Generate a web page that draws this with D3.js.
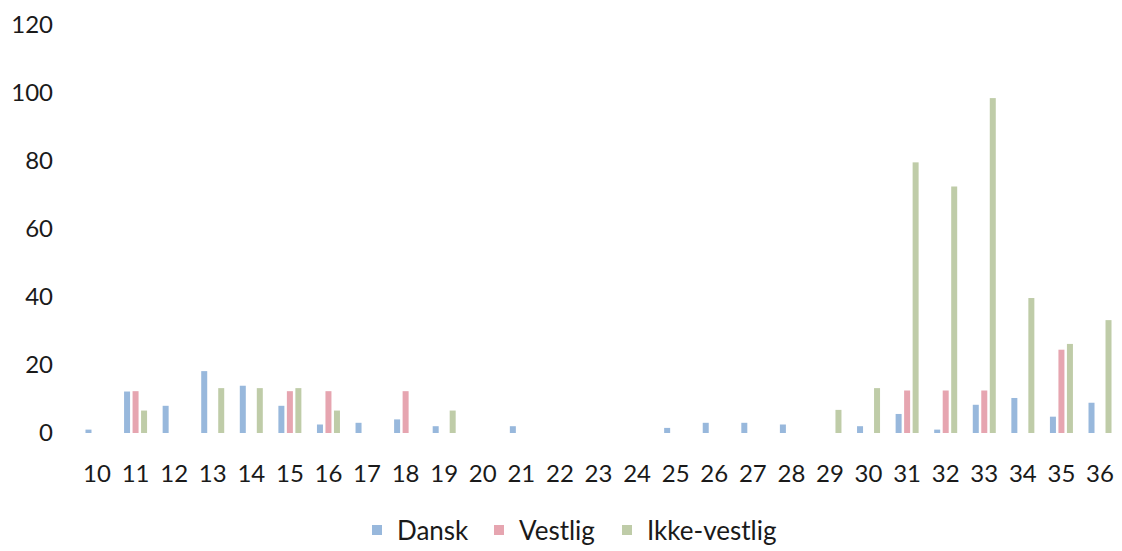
<!DOCTYPE html>
<html>
<head>
<meta charset="utf-8">
<script src="https://cdn.jsdelivr.net/npm/d3@7/dist/d3.min.js"></script>
<style>
  html, body { margin: 0; padding: 0; background: #ffffff; }
  svg { display: block; }
  text { font-family: Lato, "Open Sans", sans-serif; fill: #1a1a1a; }
</style>
</head>
<body>
<svg id="chart" width="1122" height="551"></svg>
<script>
// Age groups on the x axis
const categories = ["10","11","12","13","14","15","16","17","18","19","20","21","22","23",
                    "24","25","26","27","28","29","30","31","32","33","34","35","36"];
const seriesNames = ["Dansk", "Vestlig", "Ikke-vestlig"];
const seriesColors = ["#98b8dc", "#e6a5b0", "#bfcca8"];

// Values per age, one array per series
const dansk = [1, 12.2, 8, 18.2, 13.9, 8, 2.5, 3, 4, 2, 0, 2, 0, 0,
               0, 1.5, 3, 3, 2.5, 0, 2, 5.6, 1, 8.3, 10.3, 4.8, 8.9];
const vestlig = [0, 12.3, 0, 0, 0, 12.3, 12.3, 0, 12.3, 0, 0, 0, 0, 0,
                 0, 0, 0, 0, 0, 0, 0, 12.5, 12.5, 12.5, 0, 24.5, 0];
const ikkeVestlig = [0, 6.6, 0, 13.2, 13.2, 13.2, 6.6, 0, 0, 6.6, 0, 0, 0, 0,
                     0, 0, 0, 0, 0, 6.8, 13.2, 79.6, 72.5, 98.5, 39.7, 26.2, 33.2];
const yTicks = [0, 20, 40, 60, 80, 100, 120];

const seriesValues = [dansk, vestlig, ikkeVestlig];

const svg = d3.select("#chart");

const x = d3.scaleBand().domain(categories).range([77.7, 1119.3]).padding(0);
const xInner = d3.scaleBand().domain(seriesNames).range([-11.5, 11.5])
  .paddingInner(0.294).paddingOuter(0);
const y = d3.scaleLinear().domain([0, 120]).range([433, 25]);
const color = d3.scaleOrdinal().domain(seriesNames).range(seriesColors);

// Y axis labels only (no line, no ticks)
const yAxis = d3.axisLeft(y).tickValues(yTicks).tickSize(0).tickPadding(0);
const yG = svg.append("g").attr("transform", "translate(53,0)").call(yAxis);
yG.select(".domain").remove();
yG.selectAll("text").style("font-size", "24px").style("font-family", "Lato, sans-serif")
  .attr("fill", "#1a1a1a");

// X axis labels only
const xAxis = d3.axisBottom(x).tickSize(0).tickPadding(0);
const xG = svg.append("g").attr("transform", "translate(0,465)").call(xAxis);
xG.select(".domain").remove();
xG.selectAll("text").style("font-size", "24px").style("font-family", "Lato, sans-serif")
  .attr("fill", "#1a1a1a").attr("dy", "0.71em");

// Clustered bars
const rows = categories.map((c, i) => ({
  cat: c,
  vals: seriesNames.map((s, k) => ({ series: s, value: seriesValues[k][i] }))
}));

const groups = svg.append("g").selectAll("g.group")
  .data(rows).join("g")
  .attr("class", "group")
  .attr("transform", d => `translate(${x(d.cat) + x.bandwidth() / 2},0)`);

groups.selectAll("rect")
  .data(d => d.vals.filter(v => v.value > 0))
  .join("rect")
  .attr("x", d => xInner(d.series))
  .attr("width", xInner.bandwidth())
  .attr("y", d => y(d.value))
  .attr("height", d => y(0) - y(d.value))
  .attr("fill", d => color(d.series));

// Legend
const legendItems = [
  { name: "Dansk", sx: 372 },
  { name: "Vestlig", sx: 494 },
  { name: "Ikke-vestlig", sx: 622 }
];
const legend = svg.append("g");
legend.selectAll("rect").data(legendItems).join("rect")
  .attr("x", d => d.sx).attr("y", 525).attr("width", 10).attr("height", 10)
  .attr("fill", d => color(d.name));
legend.selectAll("text").data(legendItems).join("text")
  .attr("x", d => d.sx + 25).attr("y", 531).attr("dy", "0.36em")
  .style("font-size", "26px")
  .text(d => d.name);
</script>
</body>
</html>
